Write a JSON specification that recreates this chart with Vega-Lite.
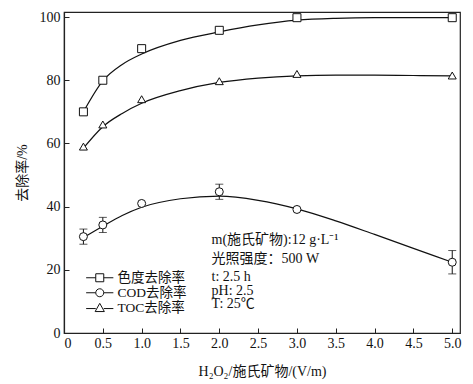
{
  "$schema": "https://vega.github.io/schema/vega-lite/v6.json",
  "autosize": "none",
  "width": 396,
  "height": 321,
  "padding": {"left": 64, "top": 12, "right": 13, "bottom": 51},
  "background": "white",
  "config": {
    "view": {"stroke": "#222", "strokeWidth": 1.2},
    "font": "Liberation Serif",
    "axis": {
      "domainColor": "#222", "domainWidth": 1.2, "tickColor": "#222", "tickWidth": 1,
      "labelColor": "#111", "labelFont": "Liberation Serif", "labelFontSize": 14,
      "titleFont": "Liberation Serif, Noto Sans CJK SC", "titleFontSize": 14, "titleFontWeight": "normal", "titleColor": "#111",
      "grid": false
    }
  },
  "datasets": {
    "pts": [
      {"s": "色度去除率", "x": 0.25, "y": 70},
      {"s": "色度去除率", "x": 0.5, "y": 80},
      {"s": "色度去除率", "x": 1.0, "y": 90},
      {"s": "色度去除率", "x": 2.0, "y": 95.8},
      {"s": "色度去除率", "x": 3.0, "y": 99.8},
      {"s": "色度去除率", "x": 5.0, "y": 99.8},
      {"s": "COD去除率", "x": 0.25, "y": 30.5},
      {"s": "COD去除率", "x": 0.5, "y": 34.2},
      {"s": "COD去除率", "x": 1.0, "y": 41.0},
      {"s": "COD去除率", "x": 2.0, "y": 44.7},
      {"s": "COD去除率", "x": 3.0, "y": 39.1},
      {"s": "COD去除率", "x": 5.0, "y": 22.4},
      {"s": "TOC去除率", "x": 0.25, "y": 59},
      {"s": "TOC去除率", "x": 0.5, "y": 66},
      {"s": "TOC去除率", "x": 1.0, "y": 74},
      {"s": "TOC去除率", "x": 2.0, "y": 79.7},
      {"s": "TOC去除率", "x": 3.0, "y": 82},
      {"s": "TOC去除率", "x": 5.0, "y": 81.5}
    ],
    "curve": [
      {"s": "色度去除率", "x": 0.25, "y": 70},
      {"s": "色度去除率", "x": 0.5, "y": 79.8},
      {"s": "色度去除率", "x": 0.75, "y": 85},
      {"s": "色度去除率", "x": 1.0, "y": 88.3},
      {"s": "色度去除率", "x": 1.5, "y": 92.6},
      {"s": "色度去除率", "x": 2.0, "y": 95.3},
      {"s": "色度去除率", "x": 2.5, "y": 97.5},
      {"s": "色度去除率", "x": 3.0, "y": 99},
      {"s": "色度去除率", "x": 3.5, "y": 99.6},
      {"s": "色度去除率", "x": 4.0, "y": 99.8},
      {"s": "色度去除率", "x": 4.5, "y": 99.8},
      {"s": "色度去除率", "x": 5.0, "y": 99.8},
      {"s": "COD去除率", "x": 0.25, "y": 30.2},
      {"s": "COD去除率", "x": 0.5, "y": 33.8},
      {"s": "COD去除率", "x": 0.75, "y": 37.2},
      {"s": "COD去除率", "x": 1.0, "y": 39.8},
      {"s": "COD去除率", "x": 1.5, "y": 42.5},
      {"s": "COD去除率", "x": 2.0, "y": 43.3},
      {"s": "COD去除率", "x": 2.5, "y": 42.0},
      {"s": "COD去除率", "x": 3.0, "y": 39.3},
      {"s": "COD去除率", "x": 3.5, "y": 35.5},
      {"s": "COD去除率", "x": 4.0, "y": 31.2},
      {"s": "COD去除率", "x": 4.5, "y": 26.8},
      {"s": "COD去除率", "x": 5.0, "y": 22.4},
      {"s": "TOC去除率", "x": 0.25, "y": 58.5},
      {"s": "TOC去除率", "x": 0.5, "y": 65.3},
      {"s": "TOC去除率", "x": 0.75, "y": 69.5},
      {"s": "TOC去除率", "x": 1.0, "y": 72.7},
      {"s": "TOC去除率", "x": 1.5, "y": 76.7},
      {"s": "TOC去除率", "x": 2.0, "y": 79.3},
      {"s": "TOC去除率", "x": 2.5, "y": 80.7},
      {"s": "TOC去除率", "x": 3.0, "y": 81.4},
      {"s": "TOC去除率", "x": 3.5, "y": 81.6},
      {"s": "TOC去除率", "x": 4.0, "y": 81.6},
      {"s": "TOC去除率", "x": 4.5, "y": 81.5},
      {"s": "TOC去除率", "x": 5.0, "y": 81.4}
    ],
    "err": [
      {"x": 0.25, "lo": 28.1, "hi": 32.9},
      {"x": 0.5, "lo": 31.8, "hi": 36.6},
      {"x": 2.0, "lo": 42.3, "hi": 47.1},
      {"x": 5.0, "lo": 18.7, "hi": 26.1}
    ],
    "note1": [
      {"lines": ["m(施氏矿物):12 g·L⁻¹", "光照强度：500 W"]}
    ],
    "note2": [
      {"lines": ["t: 2.5 h", "pH: 2.5", "T: 25℃"]}
    ]
  },
  "layer": [
    {
      "encoding": {
        "x": {
          "field": "x", "type": "quantitative",
          "scale": {"domain": [0, 5.1], "nice": false, "zero": false},
          "axis": {
            "values": [0, 0.5, 1, 1.5, 2, 2.5, 3, 3.5, 4, 4.5, 5],
            "labelExpr": "datum.value == 0 ? '0' : format(datum.value, '.1f')",
            "tickSize": -5, "labelPadding": 8,
            "title": "H₂O₂/施氏矿物/(V/m)", "titlePadding": 14
          }
        },
        "y": {
          "field": "y", "type": "quantitative",
          "scale": {"domain": [0, 101.6], "nice": false},
          "axis": {
            "values": [0, 20, 40, 60, 80, 100],
            "tickSize": -5, "labelPadding": 9,
            "title": "去除率/%", "titlePadding": 10
          }
        }
      },
      "layer": [
        {
          "data": {"name": "curve"},
          "mark": {"type": "line", "interpolate": "monotone", "color": "#111", "strokeWidth": 1.2},
          "encoding": {"detail": {"field": "s"}}
        },
        {
          "data": {"name": "err"},
          "mark": {"type": "errorbar", "ticks": {"size": 8, "color": "#111", "thickness": 1}, "color": "#111", "thickness": 1},
          "encoding": {
            "y": {"field": "lo", "type": "quantitative"},
            "y2": {"field": "hi"}
          }
        },
        {
          "data": {"name": "pts"},
          "mark": {"type": "point", "filled": false, "fill": "white", "stroke": "#111", "strokeWidth": 1, "size": 64, "opacity": 1},
          "encoding": {
            "shape": {
              "field": "s", "type": "nominal",
              "scale": {"domain": ["色度去除率", "COD去除率", "TOC去除率"], "range": ["square", "circle", "triangle-up"]},
              "legend": null
            }
          }
        },
        {
          "data": {"name": "pts"},
          "mark": {"type": "point", "filled": false, "stroke": "#111", "opacity": 0},
          "encoding": {
            "shape": {
              "field": "s", "type": "nominal",
              "scale": {
                "domain": ["色度去除率", "COD去除率", "TOC去除率"],
                "range": [
                  "M-3.4,0H-1M1,0H3.4M-1,-1H1V1H-1Z",
                  "M-3.4,0H-1M1,0H3.4M-1,0A1,1,0,1,1,1,0A1,1,0,1,1,-1,0Z",
                  "M-3.4,0.2H-1M1,0.2H3.4M0,-1.1L1.15,0.95L-1.15,0.95Z"
                ]
              },
              "legend": {
                "title": null, "orient": "none", "legendX": 29, "legendY": 259,
                "padding": 0, "rowPadding": 0,
                "symbolSize": 64, "symbolOpacity": 1, "symbolStrokeColor": "#111", "symbolFillColor": "white", "symbolStrokeWidth": 1,
                "labelFont": "Liberation Serif, Noto Sans CJK SC", "labelFontSize": 13.5, "labelColor": "#111", "labelOffset": 11
              }
            }
          }
        }
      ],
      "resolve": {"scale": {"shape": "independent"}}
    },
    {
      "data": {"name": "note1"},
      "mark": {"type": "text", "align": "left", "baseline": "top", "font": "Liberation Serif, Noto Sans CJK SC", "fontSize": 14, "color": "#111", "lineHeight": 18.5},
      "encoding": {
        "x": {"datum": 1.9, "type": "quantitative",
          "axis": {
            "values": [0, 0.5, 1, 1.5, 2, 2.5, 3, 3.5, 4, 4.5, 5],
            "labelExpr": "datum.value == 0 ? '0' : format(datum.value, '.1f')",
            "tickSize": -5, "labelPadding": 8,
            "title": "H₂O₂/施氏矿物/(V/m)", "titlePadding": 14
          }},
        "y": {"datum": 31.6, "type": "quantitative",
          "axis": {
            "values": [0, 20, 40, 60, 80, 100],
            "tickSize": -5, "labelPadding": 9,
            "title": "去除率/%", "titlePadding": 10
          }},
        "text": {"field": "lines"}
      }
    },
    {
      "data": {"name": "note2"},
      "mark": {"type": "text", "align": "left", "baseline": "top", "font": "Liberation Serif, Noto Sans CJK SC", "fontSize": 14, "color": "#111", "lineHeight": 13.5},
      "encoding": {
        "x": {"datum": 1.9, "type": "quantitative",
          "axis": {
            "values": [0, 0.5, 1, 1.5, 2, 2.5, 3, 3.5, 4, 4.5, 5],
            "labelExpr": "datum.value == 0 ? '0' : format(datum.value, '.1f')",
            "tickSize": -5, "labelPadding": 8,
            "title": "H₂O₂/施氏矿物/(V/m)", "titlePadding": 14
          }},
        "y": {"datum": 19.9, "type": "quantitative",
          "axis": {
            "values": [0, 20, 40, 60, 80, 100],
            "tickSize": -5, "labelPadding": 9,
            "title": "去除率/%", "titlePadding": 10
          }},
        "text": {"field": "lines"}
      }
    }
  ]
}
